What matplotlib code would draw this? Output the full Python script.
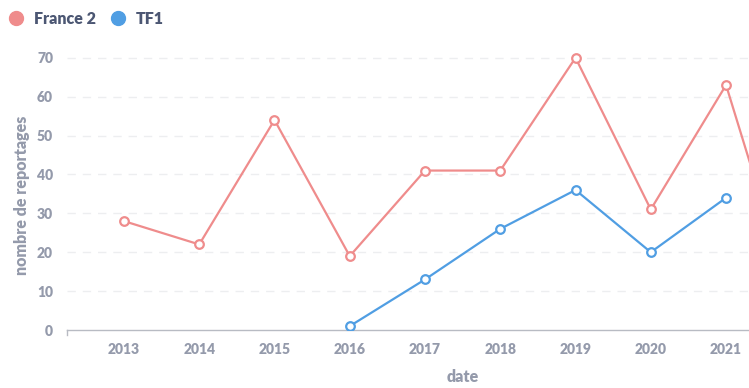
import matplotlib.pyplot as plt
from matplotlib.lines import Line2D

# ---- data ----
years_fr2 = [2013, 2014, 2015, 2016, 2017, 2018, 2019, 2020, 2021, 2022]
france2 = [28, 22, 54, 19, 41, 41, 70, 31, 63, 0]

years_tf1 = [2016, 2017, 2018, 2019, 2020, 2021]
tf1 = [1, 13, 26, 36, 20, 34]

xticks = list(range(2013, 2022))
yticks = [0, 10, 20, 30, 40, 50, 60, 70]

C_FR2 = '#EF8C8C'
C_TF1 = '#509EE3'
C_TICK = '#949AAB'
C_LEG = '#4C5773'

plt.rcParams['font.family'] = ['Lato', 'DejaVu Sans']
plt.rcParams['font.weight'] = 'heavy'

fig = plt.figure(figsize=(7.49, 3.88), dpi=100)
ax = fig.add_axes([67/749, 58/388, 1 - 67/749, (330 - 50)/388])

for xs, ys, c in [(years_fr2, france2, C_FR2), (years_tf1, tf1, C_TF1)]:
    ax.plot(xs, ys, color=c, lw=1.6, marker='o', ms=6.2, mfc='white',
            mec=c, mew=1.6, zorder=3)

ax.set_xlim(2012.243, 2021.305)
ax.set_ylim(0, 72)
ax.set_xticks(xticks)
ax.set_yticks(yticks)
ax.tick_params(axis='both', length=0, labelsize=10, labelcolor=C_TICK)
ax.tick_params(axis='x', pad=9)
ax.tick_params(axis='y', pad=10)
for lab in ax.get_xticklabels() + ax.get_yticklabels():
    lab.set_fontweight('heavy')

for y in yticks[1:]:
    ax.axhline(y, color='#EDEEF0', lw=1, ls=(0, (6, 5)), zorder=1)

for s in ['top', 'right', 'left']:
    ax.spines[s].set_visible(False)
ax.spines['bottom'].set_color('#B8BBC3')
ax.spines['bottom'].set_linewidth(1)
# small tick at the left end of the x axis
fig.add_artist(Line2D([67/749, 67/749], [58/388, 53/388], color='#B8BBC3',
                      lw=1, transform=fig.transFigure))

fig.text(22/749, 1 - 195/388, 'nombre de reportages', rotation=90,
         ha='center', va='center', fontsize=11.5, color=C_TICK, fontweight='heavy')
fig.text(463/749, 1 - 377/388, 'date', ha='center', va='center',
         fontsize=11.5, color=C_TICK, fontweight='heavy')

# legend
for cx, tx, label, c in [(16, 34, 'France 2', C_FR2), (118, 136, 'TF1', C_TF1)]:
    fig.add_artist(Line2D([cx/749], [1 - 18/388], marker='o', ms=10,
                          color=c, mec=c, transform=fig.transFigure))
    fig.text(tx/749, 1 - 19/388, label, ha='left', va='center', fontsize=11.5,
             color=C_LEG, fontweight='heavy')

fig.savefig('out.png', dpi=100)
